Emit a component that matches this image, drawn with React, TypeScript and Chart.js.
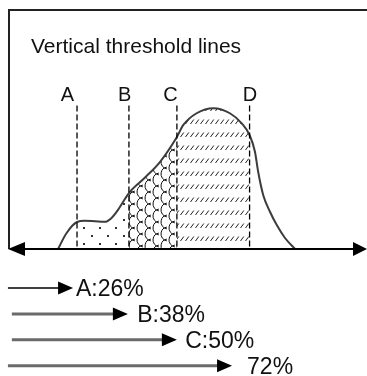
import React, { useEffect, useRef } from "react";
import { Chart, registerables } from "chart.js";

Chart.register(...registerables);

// ---- data (x and y in percent of the plot box) ----
const titleText = "Vertical threshold lines";

const curveX = [13.7, 16.0, 19.0, 21.2, 24.0, 26.8, 28.5, 30.5, 33.5, 38.0, 42.2, 46.9, 48.7, 52.4, 57.1, 61.7, 65.0, 67.2, 68.7, 69.6, 71.0, 72.9, 74.8, 77.1, 79.9];
const curveY = [0, 6.5, 11.3, 11.8, 11.6, 11.4, 12.8, 16.5, 23.4, 29.9, 36.5, 46.9, 51.9, 56.8, 58.9, 56.8, 52.6, 47.7, 40.7, 32.3, 22.6, 15.6, 10.0, 4.6, 0];

const thresholdNames = ["A", "B", "C", "D"];
const thresholdX = [19.0, 33.5, 46.9, 67.2];
const thresholdTop = 60;
const thresholdLabelX = [16.3, 32.3, 45.1, 67.3];
const thresholdLabelY = 62;

const arrowLabels = ["A:26%", "B:38%", "C:50%", "72%"];
const arrowStartX = [-0.3, 0.8, 0.8, -0.3];
const arrowTipX = [17.9, 33.2, 46.9, 62.3];
const arrowLabelX = [18.7, 35.8, 49.2, 66.5];

const FONT = '"Liberation Sans", Arial, Helvetica, sans-serif';

function makePattern(kind: string): CanvasPattern | string {
  const c = document.createElement("canvas");
  const g = c.getContext("2d");
  if (!g) return "transparent";
  if (kind === "dots") {
    c.width = 16;
    c.height = 16;
    g.fillStyle = "#333";
    g.fillRect(3, 3, 2, 2);
    g.fillRect(11, 11, 2, 2);
  } else if (kind === "scales") {
    c.width = 16;
    c.height = 12;
    g.strokeStyle = "#111";
    g.lineWidth = 1;
    const centers = [
      [0, 0], [16, 0], [8, 6], [0, 12], [16, 12], [8, 18], [8, -6], [0, 24], [16, 24],
    ];
    for (const [cx, cy] of centers) {
      g.beginPath();
      g.arc(cx, cy, 7, Math.PI * 0.55, Math.PI * 1.45);
      g.stroke();
    }
  } else {
    c.width = 5;
    c.height = 13;
    g.strokeStyle = "#222";
    g.lineWidth = 1;
    g.beginPath();
    g.moveTo(0.5, 7);
    g.lineTo(3.8, 2.5);
    g.stroke();
  }
  const p = g.createPattern(c, "repeat");
  return p || "transparent";
}

export default function App() {
  const ref = useRef<HTMLCanvasElement | null>(null);

  useEffect(() => {
    const canvas = ref.current;
    if (!canvas) return;

    const regionFills = [makePattern("dots"), makePattern("scales"), makePattern("hatch")];

    const regionOf = (xv: number) => {
      for (let i = 0; i < thresholdX.length - 1; i++) {
        if (xv >= thresholdX[i] - 1e-9 && xv < thresholdX[i + 1] - 1e-9) return i;
      }
      return -1;
    };

    const drawArrowHead = (ctx: CanvasRenderingContext2D, tipX: number, yy: number, dir: number, len: number, half: number) => {
      ctx.beginPath();
      ctx.moveTo(tipX, yy);
      ctx.lineTo(tipX - dir * len, yy - half);
      ctx.lineTo(tipX - dir * len, yy + half);
      ctx.closePath();
      ctx.fill();
    };

    const decor = {
      id: "decor",
      afterDraw(chart: any) {
        const { ctx, chartArea: a, scales } = chart;
        const xs = scales.x;
        const ys = scales.y;
        const y0 = ys.getPixelForValue(0);
        ctx.save();

        // frame (left and top)
        ctx.strokeStyle = "#222";
        ctx.lineWidth = 2;
        ctx.beginPath();
        ctx.moveTo(a.left, y0);
        ctx.lineTo(a.left, a.top);
        ctx.lineTo(a.right, a.top);
        ctx.stroke();

        // baseline axis with arrows at both ends
        ctx.strokeStyle = "#000";
        ctx.fillStyle = "#000";
        ctx.lineWidth = 2;
        ctx.beginPath();
        ctx.moveTo(a.left + 6, y0);
        ctx.lineTo(a.right - 6, y0);
        ctx.stroke();
        drawArrowHead(ctx, a.left - 1, y0, -1, 17, 7);
        drawArrowHead(ctx, a.right, y0, 1, 14, 7);

        // title
        ctx.fillStyle = "#111";
        ctx.font = `21px ${FONT}`;
        ctx.textAlign = "left";
        ctx.textBaseline = "alphabetic";
        ctx.fillText(titleText, a.left + 22, a.top + 43);

        // threshold labels
        ctx.font = `20px ${FONT}`;
        ctx.textAlign = "center";
        thresholdNames.forEach((n, i) => {
          ctx.fillText(n, xs.getPixelForValue(thresholdLabelX[i]), ys.getPixelForValue(thresholdLabelY));
        });

        // cumulative arrows below the plot
        ctx.textAlign = "left";
        ctx.font = `23px ${FONT}`;
        arrowLabels.forEach((lab, i) => {
          const ry = a.bottom + 39 + i * 25.9;
          const x0 = xs.getPixelForValue(arrowStartX[i]);
          const tip = xs.getPixelForValue(arrowTipX[i]);
          ctx.strokeStyle = i === 0 ? "#000" : "#6a6a6a";
          ctx.lineWidth = i === 0 ? 1.5 : 3;
          ctx.beginPath();
          ctx.moveTo(x0, ry);
          ctx.lineTo(tip - 10, ry);
          ctx.stroke();
          ctx.fillStyle = "#000";
          drawArrowHead(ctx, tip, ry, 1, 15, 6.5);
          ctx.fillStyle = "#111";
          ctx.fillText(lab, xs.getPixelForValue(arrowLabelX[i]), ry + 8);
        });
        ctx.restore();
      },
    };

    const curvePoints = curveX.map((x, i) => ({ x, y: curveY[i] }));

    const chart = new Chart(canvas, {
      type: "line",
      data: {
        datasets: [
          ...thresholdX.map((x, i) => ({
            label: thresholdNames[i],
            data: [
              { x, y: thresholdTop },
              { x, y: 0 },
            ],
            borderColor: "#000",
            borderWidth: 1.3,
            borderDash: [6, 3],
            pointRadius: 0,
            fill: false,
            tension: 0,
          })),
          {
            label: "curve",
            data: curvePoints,
            borderColor: "#3c3c3c",
            borderWidth: 2,
            pointRadius: 0,
            fill: false,
            cubicInterpolationMode: "monotone",
          },
          {
            label: "regions",
            data: curvePoints,
            borderColor: "rgba(0,0,0,0)",
            borderWidth: 0,
            pointRadius: 0,
            fill: "origin",
            backgroundColor: "rgba(0,0,0,0)",
            cubicInterpolationMode: "monotone",
            segment: {
              backgroundColor: (c: any) => {
                const r = regionOf(curveX[c.p0DataIndex]);
                return r >= 0 ? regionFills[r] : "rgba(0,0,0,0)";
              },
              borderDashOffset: (c: any) => regionOf(curveX[c.p0DataIndex]) + 1,
            },
          },
        ] as any,
      },
      options: {
        responsive: false,
        animation: false,
        events: [],
        layout: { padding: { left: 9, top: 10, right: 0, bottom: 127 } },
        scales: {
          x: { type: "linear", min: 0, max: 100, display: false },
          y: { type: "linear", min: 0, max: 100, display: false },
        },
        plugins: {
          legend: { display: false },
          tooltip: { enabled: false },
          title: { display: false },
        },
      } as any,
      plugins: [decor],
    });

    return () => chart.destroy();
  }, []);

  return (
    <div style={{ position: "absolute", left: 0, top: 0, width: 367, height: 376, background: "#fff" }}>
      <canvas ref={ref} width={367} height={376} style={{ display: "block" }} />
    </div>
  );
}
